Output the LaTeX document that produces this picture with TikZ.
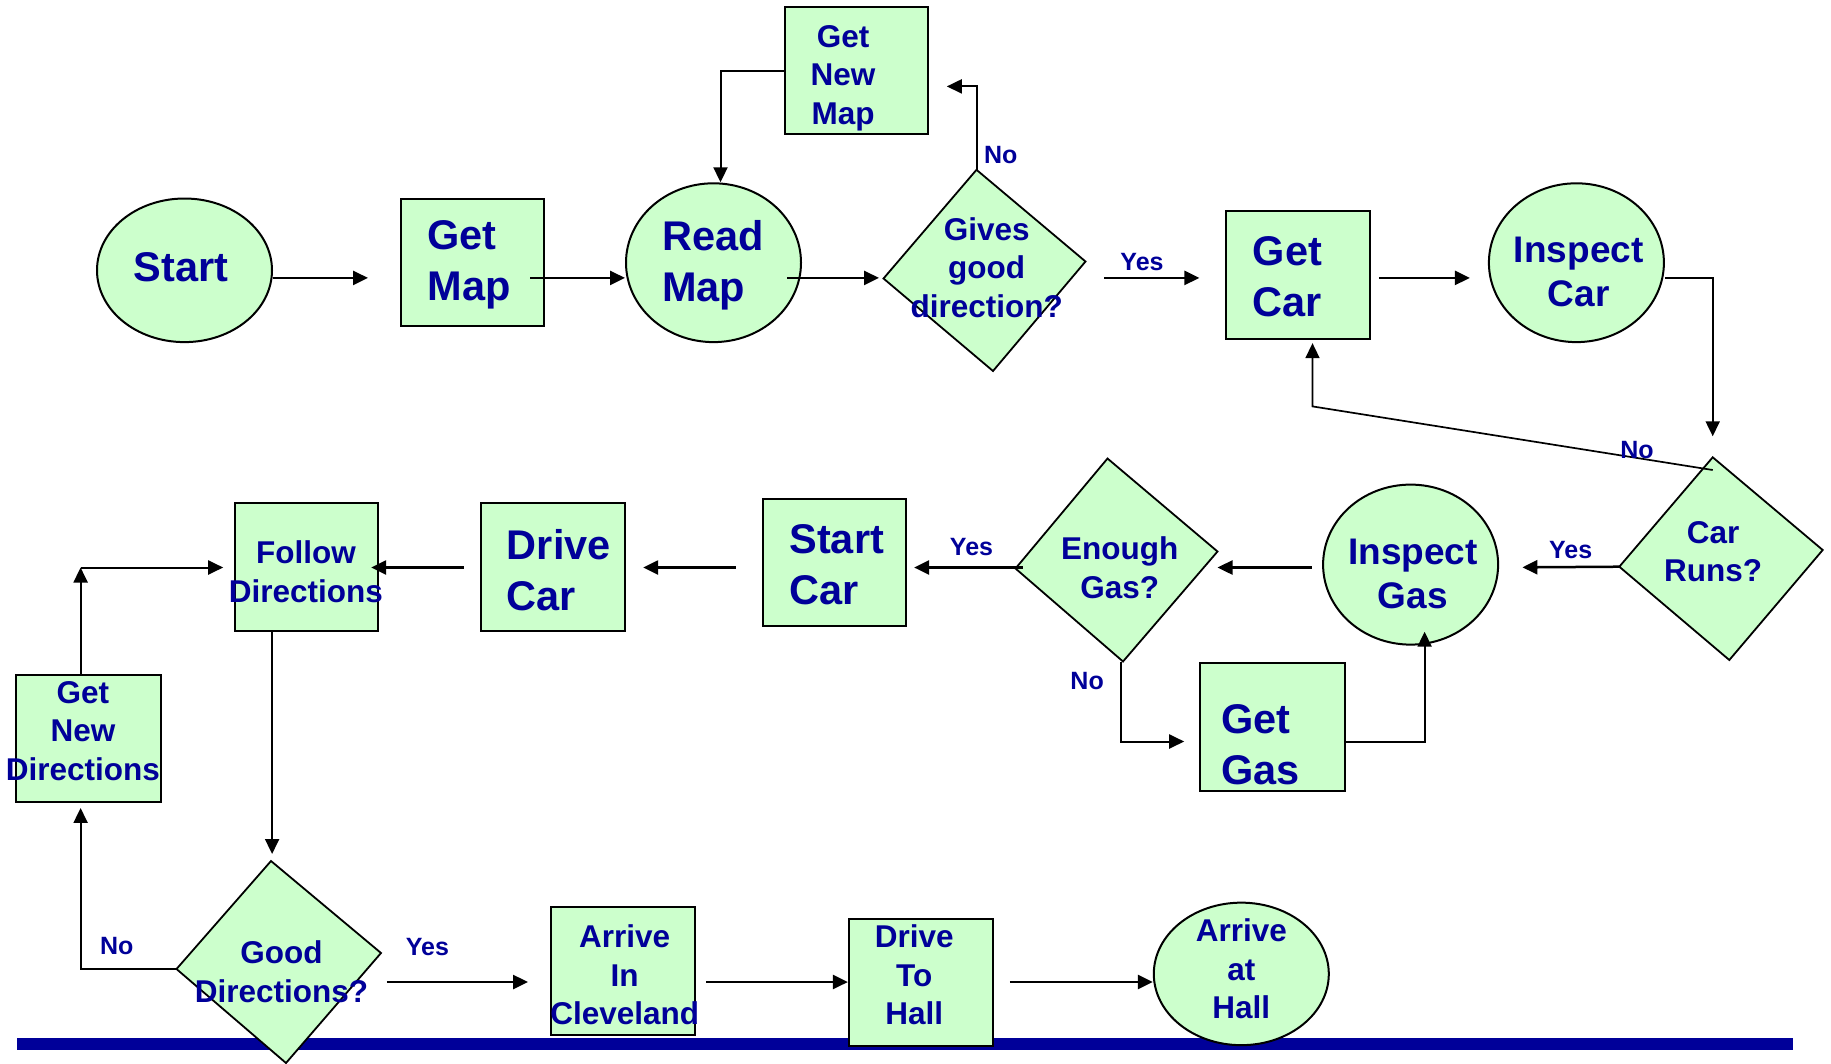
\documentclass[tikz,border=0pt]{standalone}
\usepackage{fontspec}
\setmainfont{Liberation Sans}
\usetikzlibrary{shapes.geometric,arrows.meta,calc}
\definecolor{lgreen}{HTML}{CCFFCC}
\definecolor{navy}{HTML}{000099}
\begin{document}
\begin{tikzpicture}[x=1pt,y=-1pt,
  box/.style={draw=black,line width=2pt,fill=lgreen,minimum width=143.6pt,minimum height=127.3pt,inner sep=0pt},
  oval/.style={ellipse,draw=black,line width=2pt,fill=lgreen,minimum width=175pt,inner sep=0pt},
  dia/.style={draw=black,line width=1.8pt,fill=lgreen,line join=miter},
  arr/.style={line width=2.5pt,-{Triangle[length=15pt,width=14pt]}},
  thin arr/.style={arr,line width=2pt},
  bigtxt/.style={text=navy,font=\fontsize{41.5}{51}\selectfont\bfseries,align=left,inner sep=0pt},
  instxt/.style={text=navy,font=\fontsize{37}{44}\selectfont\bfseries,align=center,inner sep=0pt},
  midtxt/.style={text=navy,font=\fontsize{31.5}{38.5}\selectfont\bfseries,align=center,inner sep=0pt},
  lbl/.style={text=navy,font=\fontsize{25}{30}\selectfont\bfseries,inner sep=0pt}]

\path[use as bounding box] (0,0) rectangle (1831,1063);

% baseline bar
\fill[navy] (17,1038) rectangle (1793,1050);

% row helpers
\coordinate (row1) at (0,277.9);
\coordinate (row2) at (0,567.5);
\coordinate (row3) at (0,982);
\coordinate (nmrow) at (0,86.4);
\coordinate (nmout) at (0,71.2);
\coordinate (gasrow) at (0,741.5);
\coordinate (leftcol) at (80.6,0);
\coordinate (fcol) at (272.1,0);

% boxes
\node[box] (getmap) at (472.3,262.2) {};
\node[box] (getnewmap) at (856.5,70.6) {};
\node[box] (getcar) at (1297.9,275) {};
\node[box] (startcar) at (834.3,562.3) {};
\node[box] (drivecar) at (552.9,566.9) {};
\node[box] (follow) at (306.5,566.9) {};
\node[box,minimum width=144.8pt] (getgas) at (1272.8,726.9) {};
\node[box,minimum width=144.8pt] (getnewdir) at (88.7,738.6) {};
\node[box] (cleveland) at (623,971) {};
\node[box] (tohall) at (920.7,982.6) {};

% ovals
\node[oval,minimum height=143.6pt] (start) at (184.5,270.3) {};
\node[oval,minimum height=158.8pt] (readmap) at (713.5,262.7) {};
\node[oval,minimum height=158.8pt] (inspectcar) at (1576.4,262.7) {};
\node[oval,minimum height=160pt] (inspectgas) at (1410.6,564.6) {};
\node[oval,minimum height=142.5pt] (athall) at (1241.3,973.9) {};

% decisions
\coordinate (gg-t) at (976.5,169.8);
\coordinate (gg-r) at (1085.5,261.5);
\coordinate (gg-b) at (993,371);
\coordinate (gg-l) at (883.5,278.5);
\draw[dia] (gg-t) -- (gg-r) -- (gg-b) -- (gg-l) -- cycle;

\coordinate (cr-t) at (1712.7,457.3);
\coordinate (cr-r) at (1822.7,550);
\coordinate (cr-b) at (1729.3,660);
\coordinate (cr-l) at (1619.3,566.7);
\draw[dia] (cr-t) -- (cr-r) -- (cr-b) -- (cr-l) -- cycle;

\coordinate (eg-t) at (1107.5,458.5);
\coordinate (eg-r) at (1217.5,551.5);
\coordinate (eg-b) at (1123,661.5);
\coordinate (eg-l) at (1015.5,568.5);
\draw[dia] (eg-t) -- (eg-r) -- (eg-b) -- (eg-l) -- cycle;

\coordinate (gd-t) at (271,861);
\coordinate (gd-r) at (381,953);
\coordinate (gd-b) at (286,1063);
\coordinate (gd-l) at (176.5,969);
\draw[dia] (gd-t) -- (gd-r) -- (gd-b) -- (gd-l) -- cycle;

% connectors, top row
\draw[arr,shorten >=31.5pt] (start.east |- row1) -- (getmap.west |- row1);
\draw[arr,shorten <=-15pt] (getmap.east |- row1) -- (readmap.west |- row1);
\draw[arr,shorten <=-14.7pt,shorten >=4.5pt] (readmap.east |- row1) -- (gg-l |- row1);
\draw[arr,shorten <=18.6pt,shorten >=25.7pt] (gg-r |- row1) -- (getcar.west |- row1);
\draw[arr,shorten <=8.2pt,shorten >=18pt] (getcar.east |- row1) -- (inspectcar.west |- row1);
\draw[thin arr,shorten >=21pt] (inspectcar.east |- row1) -| (cr-t);
\draw[thin arr,shorten >=17.5pt] (gg-t) |- (getnewmap.east |- nmrow);
\coordinate (nmdrop) at (720.5,0);
\draw[thin arr] (getnewmap.west |- nmout) -| (nmdrop |- readmap.north);

% car fails to run: back to the car
\coordinate (crno) at (1712.7,470);
\coordinate (nobend) at (1312.5,406.4);
\draw[thin arr,line width=1.7pt,shorten >=3.5pt] (crno) -- (nobend) -- (nobend |- getcar.south);

% middle row
\draw[arr,shorten >=23.3pt] (cr-l) -- (inspectgas.east |- row2);
\draw[arr,shorten <=10.5pt] (inspectgas.west |- row2) -- (eg-r |- row2);
\draw[arr,shorten <=-7pt,shorten >=7pt] (eg-l |- row2) -- (startcar.east |- row2);
\draw[arr,shorten <=25.7pt,shorten >=17.5pt] (startcar.west |- row2) -- (drivecar.east |- row2);
\draw[arr,shorten <=16.4pt,shorten >=-8.1pt] (drivecar.west |- row2) -- (follow.east |- row2);

% not enough gas
\coordinate (egcol) at (1121,0);
\draw[thin arr,shorten >=15.2pt] (egcol |- eg-b) |- (getgas.west |- gasrow);
\coordinate (gasin) at (1424.6,631.7);
\draw[thin arr] (getgas.east |- gasrow) -| (gasin);

% directions loop
\coordinate (dircorner) at (leftcol |- row2);
\draw[thin arr] (getnewdir.north -| leftcol) -- (dircorner);
\draw[thin arr,shorten >=10.5pt] (dircorner) -- (follow.west |- row2);
\draw[thin arr,shorten >=7pt] (follow.south -| fcol) -- (fcol |- gd-t);
\draw[thin arr,shorten >=4.7pt] (gd-l) -| (getnewdir.south -| leftcol);

% bottom row
\draw[arr,shorten <=5.8pt,shorten >=22.2pt] (gd-r |- row3) -- (cleveland.west |- row3);
\draw[arr,shorten <=10.5pt] (cleveland.east |- row3) -- (tohall.west |- row3);
\draw[arr,shorten <=16.4pt] (tohall.east |- row3) -- (athall.west |- row3);

% texts
\node[bigtxt] (t-start) at (181,267.4) {Start};
\node[bigtxt] (t-getmap) at (469,265) {Get\\Map};
\node[bigtxt] (t-readmap) at (712.8,265) {Read\\Map};
\node[midtxt] (t-gg) at (986.7,267.4) {Gives\\good\\direction?};
\node[midtxt] (t-gnm) at (843,78) {Get\\New\\Map};
\node[bigtxt] (t-getcar) at (1287.5,276.7) {Get\\Car};
\node[instxt] (t-inspectcar) at (1578.7,271.5) {Inspect\\Car};
\node[midtxt] (t-cr) at (1713,551.8) {Car\\Runs?};
\node[instxt] (t-ig) at (1412.9,574) {Inspect\\Gas};
\node[midtxt] (t-eg) at (1119.8,567.5) {Enough\\Gas?};
\node[bigtxt] (t-startcar) at (836.7,565.2) {Start\\Car};
\node[bigtxt] (t-drivecar) at (558.8,569.9) {Drive\\Car};
\node[midtxt] (t-follow) at (305.9,571.6) {Follow\\Directions};
\node[bigtxt] (t-getgas) at (1260.6,745) {Get\\Gas};
\node[midtxt] (t-gnd) at (82.9,731) {Get\\New\\Directions};
\node[midtxt] (t-gd) at (281.4,971.5) {Good\\Directions?};
\node[midtxt] (t-cleve) at (624.7,975) {Arrive\\In\\Cleveland};
\node[midtxt] (t-dth) at (914.3,975) {Drive\\To\\Hall};
\node[midtxt] (t-athall) at (1241.3,969.2) {Arrive\\at\\Hall};

% branch labels
\node[lbl] (l-gg-no) at (1000.7,155.3) {No};
\node[lbl] (l-gg-yes) at (1142,262) {Yes};
\node[lbl] (l-cr-no) at (1637,449.6) {No};
\node[lbl] (l-cr-yes) at (1570.6,550.5) {Yes};
\node[lbl] (l-eg-yes) at (971.5,547) {Yes};
\node[lbl] (l-eg-no) at (1087.1,680.8) {No};
\node[lbl] (l-gd-no) at (116.8,945.8) {No};
\node[lbl] (l-gd-yes) at (427.4,947.5) {Yes};
\end{tikzpicture}
\end{document}
